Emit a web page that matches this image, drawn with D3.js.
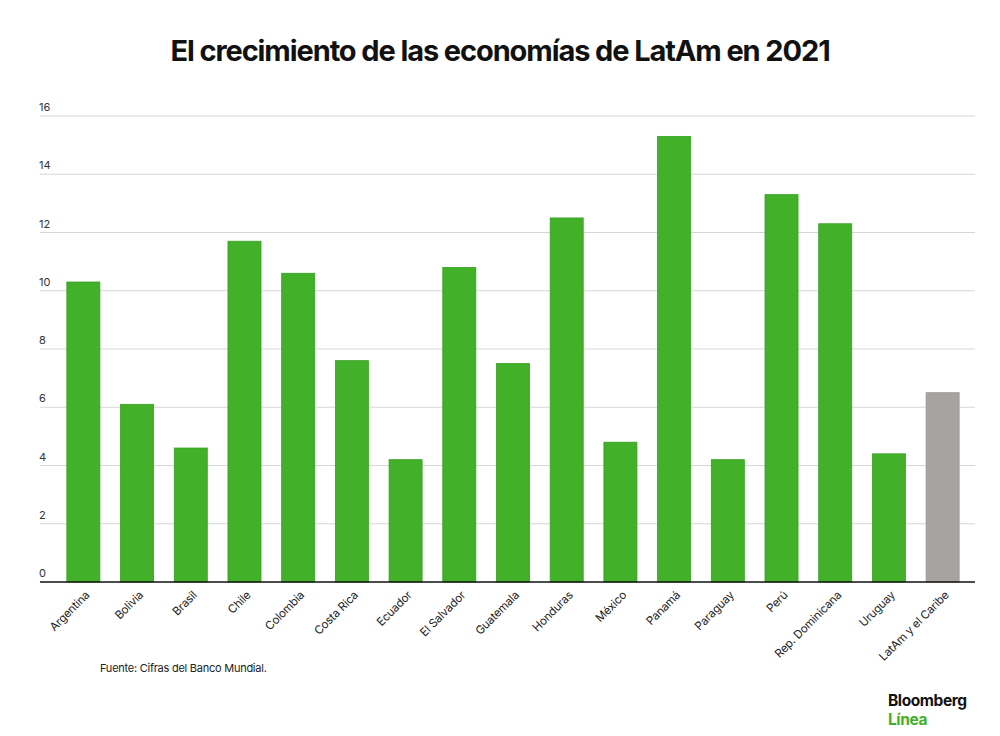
<!DOCTYPE html>
<html>
<head>
<meta charset="utf-8">
<script src="https://cdn.jsdelivr.net/npm/d3@7"></script>
<style>
  body { margin: 0; background: #fff; }
  text { font-family: "Helvetica Neue", Inter, "Liberation Sans", Arial, sans-serif; }
</style>
</head>
<body>
<div id="chart"></div>
<script>
// Crecimiento del PIB 2021 (%)
const countries = ['Argentina', 'Bolivia', 'Brasil', 'Chile', 'Colombia', 'Costa Rica', 'Ecuador',
    'El Salvador', 'Guatemala', 'Honduras', 'México', 'Panamá', 'Paraguay', 'Perú',
    'Rep. Dominicana', 'Uruguay', 'LatAm y el Caribe'];
const growth = [10.3, 6.1, 4.6, 11.7, 10.6, 7.6, 4.2, 10.8, 7.5, 12.5, 4.8, 15.3, 4.2, 13.3, 12.3, 4.4, 6.5];
const yTicks = [0, 2, 4, 6, 8, 10, 12, 14, 16];

const width = 1000;
const height = 736;
const plot = { left: 40, right: 975, top: 116, bottom: 582 };

const svg = d3.select('#chart').append('svg')
    .attr('width', width)
    .attr('height', height);

const x = d3.scaleBand()
    .domain(countries)
    .range([plot.left, 986])
    .paddingInner(0.385)
    .paddingOuter(0.5);

const y = d3.scaleLinear()
    .domain([0, 16])
    .range([plot.bottom, plot.top]);

// Title
svg.append('text')
    .attr('x', width / 2)
    .attr('y', 61)
    .attr('text-anchor', 'middle')
    .attr('font-size', '29px')
    .attr('font-weight', 'bold')
    .attr('letter-spacing', '-1.1px')
    .attr('fill', '#111')
    .style('font-family', 'Inter, "Liberation Sans", sans-serif')
    .text('El crecimiento de las economías de LatAm en 2021');

// Gridlines + y labels
const grid = svg.append('g');
grid.selectAll('line')
    .data(yTicks.filter(d => d > 0))
    .enter()
    .append('line')
    .attr('x1', plot.left)
    .attr('x2', plot.right)
    .attr('y1', d => y(d))
    .attr('y2', d => y(d))
    .attr('stroke', '#d6d6d6')
    .attr('stroke-width', 1);

grid.selectAll('text')
    .data(yTicks)
    .enter()
    .append('text')
    .attr('x', plot.left - 1)
    .attr('y', d => y(d) - 5)
    .attr('font-size', '11px')
    .attr('fill', '#333')
    .text(d => d);

// Bars
svg.append('g')
    .selectAll('rect')
    .data(countries)
    .enter()
    .append('rect')
    .attr('x', d => x(d))
    .attr('y', (d, i) => y(growth[i]))
    .attr('width', x.bandwidth())
    .attr('height', (d, i) => y(0) - y(growth[i]))
    .attr('fill', (d, i) => i === countries.length - 1 ? '#a7a3a2' : '#43b02a')
    .attr('stroke', (d, i) => i === countries.length - 1 ? '#9a9695' : '#36a021')
    .attr('stroke-width', 0.8);

// Baseline
svg.append('line')
    .attr('x1', plot.left)
    .attr('x2', plot.right)
    .attr('y1', y(0))
    .attr('y2', y(0))
    .attr('stroke', '#111')
    .attr('stroke-width', 1.5);

// X labels
svg.append('g')
    .selectAll('text')
    .data(countries)
    .enter()
    .append('text')
    .attr('transform', d => `translate(${x(d) + x.bandwidth() / 2 + 4}, ${y(0) + 11}) rotate(-45)`)
    .attr('text-anchor', 'end')
    .attr('dy', '0.35em')
    .attr('font-size', '11.5px')
    .attr('letter-spacing', '-0.2px')
    .attr('fill', '#222')
    .text(d => d);

// Source
svg.append('text')
    .attr('x', 100)
    .attr('y', 672)
    .attr('font-size', '11px')
    .attr('letter-spacing', '-0.25px')
    .attr('fill', '#222')
    .text('Fuente: Cifras del Banco Mundial.');

// Logo
const logo = svg.append('g')
    .style('font-family', 'Inter, "Liberation Sans", sans-serif')
    .attr('font-weight', 'bold')
    .attr('font-size', '15.5px')
    .attr('letter-spacing', '-0.4px');
logo.append('text')
    .attr('x', 888)
    .attr('y', 706)
    .attr('fill', '#111')
    .text('Bloomberg');
logo.append('text')
    .attr('x', 888)
    .attr('y', 725)
    .attr('fill', '#43b02a')
    .text('Línea');
</script>
</body>
</html>
